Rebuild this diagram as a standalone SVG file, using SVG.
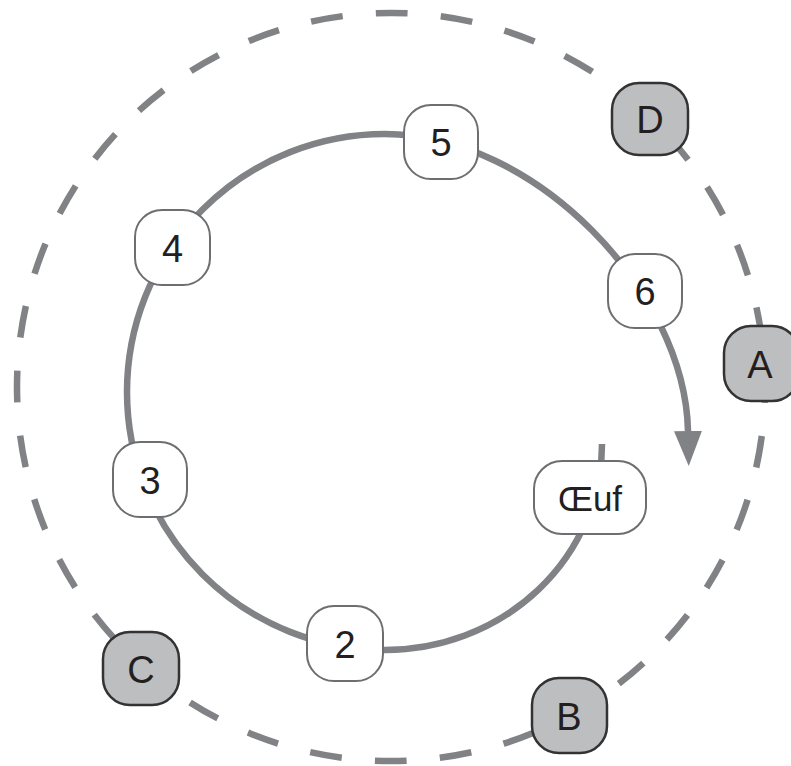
<svg xmlns="http://www.w3.org/2000/svg" width="791" height="766" viewBox="0 0 791 766">
  <style>
    .ring { fill: none; stroke: #808285; stroke-width: 6.5; }
    .dashed { stroke-dasharray: 32 33.275; stroke-dashoffset: 16; }
    .inner rect { fill: #ffffff; stroke: #6d6e71; stroke-width: 2; }
    .outer rect { fill: #bcbec0; stroke: #333333; stroke-width: 2.5; }
    text { font-family: "Liberation Sans", Arial, sans-serif; font-size: 38px; fill: #231f20; text-anchor: middle; }
  </style>
  <defs>
    <marker id="arrow" markerUnits="userSpaceOnUse" markerWidth="40" markerHeight="30" refX="0" refY="14" orient="auto">
      <path d="M0,0 L35,14 L0,28 Z" fill="#808285"/>
    </marker>
  </defs>
  <rect x="0" y="0" width="791" height="766" fill="#ffffff"/>
  <g id="connectors">
    <circle class="ring dashed" cx="391" cy="387" r="374"/>
    <path class="ring" d="M602,444 A217 206 0 0 1 385 650 A258 258 0 0 1 127 392 A258 258 0 0 1 385 134 C535,134 685,291 688,431" marker-end="url(#arrow)"/>
  </g>
  <g id="node-5" class="inner"><rect x="404" y="105" width="74" height="74" rx="27"/><text x="441" y="155.5">5</text></g>
  <g id="node-6" class="inner"><rect x="608" y="254" width="74" height="74" rx="27"/><text x="645" y="304.5">6</text></g>
  <g id="node-4" class="inner"><rect x="135" y="210" width="75" height="75" rx="27"/><text x="172.5" y="261.5">4</text></g>
  <g id="node-3" class="inner"><rect x="113" y="442" width="74" height="75" rx="27"/><text x="150" y="493.5">3</text></g>
  <g id="node-2" class="inner"><rect x="307" y="606" width="76" height="75" rx="27"/><text x="345" y="657.5">2</text></g>
  <g id="node-oeuf" class="inner"><rect x="534" y="461" width="112" height="73" rx="28"/><text x="590" y="511" style="font-size:35px">Œuf</text></g>
  <g id="node-A" class="outer"><rect x="724" y="326" width="75" height="75" rx="27"/><text x="760" y="377.5">A</text></g>
  <g id="node-B" class="outer"><rect x="532" y="678" width="75" height="75" rx="27"/><text x="569" y="729.5">B</text></g>
  <g id="node-C" class="outer"><rect x="103" y="632" width="76" height="73" rx="27"/><text x="141" y="682.5">C</text></g>
  <g id="node-D" class="outer"><rect x="612" y="83" width="76" height="72" rx="27"/><text x="650" y="132.5">D</text></g>
</svg>
